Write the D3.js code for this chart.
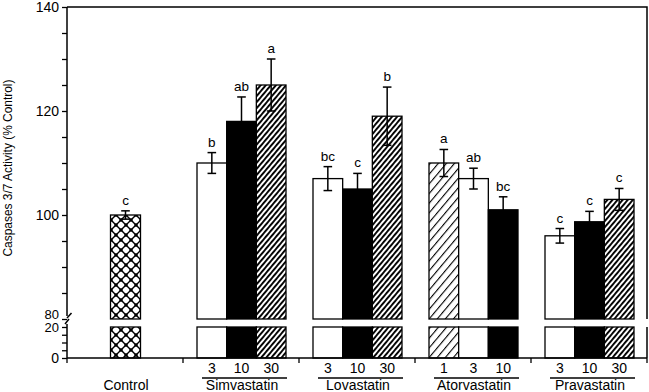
<!DOCTYPE html>
<html>
<head>
<meta charset="utf-8">
<script src="https://cdn.jsdelivr.net/npm/d3@7"></script>
<style>
  body { margin: 0; background: #fff; }
  svg { display: block; font-family: "Liberation Sans", Arial, Helvetica, sans-serif; }
  text { fill: #000; }
</style>
</head>
<body>
<svg></svg>
<script>
const WIDTH = 649;
const HEIGHT = 392;

// data
const groups = ["Control", "Simvastatin", "Lovastatin", "Atorvastatin", "Pravastatin"];
const doses = [[null], [3, 10, 30], [3, 10, 30], [1, 3, 10], [3, 10, 30]];
const means = [[100], [110, 118, 125], [107, 105, 119], [110, 107, 101], [96, 98.7, 103]];
const errors = [[0.8], [2, 4.7, 5], [2.3, 3, 5.6], [2.6, 2, 2.5], [1.4, 2, 2.1]];
const letters = [["c"], ["b", "ab", "a"], ["bc", "c", "b"], ["a", "ab", "bc"], ["c", "c", "c"]];
const upperTicks = [80, 85, 90, 95, 100, 105, 110, 115, 120, 125, 130, 135, 140];
const lowerTicks = [0, 5, 10, 15, 20];
const yTitle = "Caspases 3/7 Activity (% Control)";

const LEFT = 67, RIGHT = 647, TOP = 7;
const UPPER_BOTTOM = 319, LOWER_TOP = 327, BOTTOM = 358;

const x = d3.scaleBand().domain(groups).range([LEFT, RIGHT]);
const yUp = d3.scaleLinear().domain([80, 140]).range([UPPER_BOTTOM, TOP]);
const yLow = d3.scaleLinear().domain([0, 20]).range([BOTTOM, LOWER_TOP]);

// fill by dose (control gets its own)
const fillFor = (dose) => {
  if (dose === null) return "url(#cross)";
  return { 1: "url(#sparse)", 3: "#fff", 10: "#000", 30: "url(#dense)" }[dose];
};

const svg = d3.select("svg").attr("width", WIDTH).attr("height", HEIGHT);

function initPatterns() {
  const defs = svg.append("defs");

  const dense = defs.append("pattern").attr("id", "dense")
    .attr("patternUnits", "userSpaceOnUse").attr("width", 3.9).attr("height", 10)
    .attr("patternTransform", "rotate(40)");
  dense.append("rect").attr("width", 3.9).attr("height", 10).attr("fill", "#fff");
  dense.append("rect").attr("width", 1.9).attr("height", 10).attr("fill", "#000");

  const sparse = defs.append("pattern").attr("id", "sparse")
    .attr("patternUnits", "userSpaceOnUse").attr("width", 6.2).attr("height", 10)
    .attr("patternTransform", "rotate(40)");
  sparse.append("rect").attr("width", 6.2).attr("height", 10).attr("fill", "#fff");
  sparse.append("rect").attr("width", 1.1).attr("height", 10).attr("fill", "#000");

  const cross = defs.append("pattern").attr("id", "cross")
    .attr("patternUnits", "userSpaceOnUse").attr("width", 10).attr("height", 10)
    .attr("x", 1).attr("y", 0);
  cross.append("rect").attr("width", 10).attr("height", 10).attr("fill", "#fff");
  cross.append("path").attr("d", "M0,0L10,10M10,0L0,10")
    .attr("stroke", "#000").attr("stroke-width", 1.4);
  [[0, 0], [10, 0], [0, 10], [10, 10], [5, 5]].forEach(([cx, cy]) => {
    cross.append("rect").attr("x", cx - 1.6).attr("y", cy - 1.6)
      .attr("width", 3.2).attr("height", 3.2).attr("fill", "#000");
  });
}

function barLayout() {
  const rows = [];
  groups.forEach((g, gi) => {
    const n = means[gi].length;
    const inner = d3.scaleBand().domain(d3.range(n))
      .range(n === 1 ? [x(g) + 43.5, x(g) + 73.5] : [x(g) + 14, x(g) + 103]);
    means[gi].forEach((m, i) => {
      rows.push({
        group: g, gi, i, dose: doses[gi][i], mean: m, err: errors[gi][i],
        letter: letters[gi][i], x0: inner(i), w: inner.bandwidth()
      });
    });
  });
  return rows;
}

function drawBars(rows) {
  const g = svg.append("g");
  // upper segment
  g.selectAll(".bar-up").data(rows).enter().append("rect")
    .attr("x", (d) => d.x0).attr("width", (d) => d.w)
    .attr("y", (d) => yUp(d.mean)).attr("height", (d) => yUp(80) - yUp(d.mean))
    .attr("fill", (d) => fillFor(d.dose))
    .attr("stroke", "#000").attr("stroke-width", 1.3);
  // lower segment, 0..20
  g.selectAll(".bar-low").data(rows).enter().append("rect")
    .attr("x", (d) => d.x0).attr("width", (d) => d.w)
    .attr("y", yLow(20)).attr("height", yLow(0) - yLow(20))
    .attr("fill", (d) => fillFor(d.dose))
    .attr("stroke", "#000").attr("stroke-width", 1.3);

  // error bars
  const eb = g.selectAll(".err").data(rows).enter().append("g")
    .attr("stroke", "#000").attr("stroke-width", 1.5);
  const cx = (d) => d.x0 + d.w / 2;
  eb.append("line").attr("x1", cx).attr("x2", cx)
    .attr("y1", (d) => yUp(d.mean - d.err)).attr("y2", (d) => yUp(d.mean + d.err));
  eb.append("line").attr("x1", (d) => cx(d) - 4.3).attr("x2", (d) => cx(d) + 4.3)
    .attr("y1", (d) => yUp(d.mean + d.err)).attr("y2", (d) => yUp(d.mean + d.err));
  eb.append("line").attr("x1", (d) => cx(d) - 4.3).attr("x2", (d) => cx(d) + 4.3)
    .attr("y1", (d) => yUp(d.mean - d.err)).attr("y2", (d) => yUp(d.mean - d.err));

  // significance letters
  g.selectAll(".letter").data(rows).enter().append("text")
    .attr("x", cx).attr("y", (d) => yUp(d.mean + d.err) - 6)
    .attr("text-anchor", "middle").style("font-size", "13.5px")
    .text((d) => d.letter);

  // dose labels
  g.selectAll(".dose").data(rows.filter((d) => d.dose !== null)).enter().append("text")
    .attr("x", cx).attr("y", 373)
    .attr("text-anchor", "middle").style("font-size", "14px")
    .text((d) => d.dose);

  // underline per statin group
  groups.slice(1).forEach((name) => {
    const gr = rows.filter((d) => d.group === name);
    const a = gr[0].x0 + 5, b = gr[gr.length - 1].x0 + gr[gr.length - 1].w + 1;
    g.append("line").attr("x1", a).attr("x2", b).attr("y1", 378).attr("y2", 378)
      .attr("stroke", "#000").attr("stroke-width", 1.4);
  });

  g.selectAll(".gname").data(groups).enter().append("text")
    .attr("x", (d) => x(d) + x.bandwidth() / 2 + 1).attr("y", 390)
    .attr("text-anchor", "middle").style("font-size", "14px")
    .text((d) => d);
}

function drawAxes() {
  const fmt = (d) => (d % 20 === 0 ? d : "");
  const up = svg.append("g").attr("transform", `translate(${LEFT},0)`)
    .call(d3.axisLeft(yUp).tickValues(upperTicks).tickSize(5).tickPadding(3).tickFormat(fmt));
  const low = svg.append("g").attr("transform", `translate(${LEFT},0)`)
    .call(d3.axisLeft(yLow).tickValues(lowerTicks).tickSize(5).tickPadding(3).tickFormat(fmt));
  [up, low].forEach((a) => {
    a.select(".domain").remove();
    a.selectAll("line").attr("stroke-width", 1.3);
    a.selectAll("text").style("font-size", "14px").attr("fill", "#000");
  });
  // 80 and 20 sit tight together at the break
  up.selectAll(".tick text").filter((d) => d === 80).attr("y", -5).style("font-size", "13px");
  low.selectAll(".tick text").filter((d) => d === 20).attr("y", 0).style("font-size", "13px");

  const frame = svg.append("g").attr("stroke", "#000").attr("stroke-width", 1.5).attr("fill", "none");
  // left axis with break marks
  frame.append("path").attr("d", `M${LEFT},${TOP}V${UPPER_BOTTOM - 3}`);
  frame.append("path").attr("d", `M${LEFT},${UPPER_BOTTOM - 1}l4.5,-5`);
  frame.append("path").attr("d", `M${LEFT - 2},${LOWER_TOP - 3}l4,-5`);
  frame.append("path").attr("d", `M${LEFT},${LOWER_TOP - 3}V${BOTTOM}`);
  // top + right frame
  frame.append("path").attr("d", `M${LEFT},${TOP}H${RIGHT}V${UPPER_BOTTOM}`);
  frame.append("path").attr("d", `M${RIGHT},${LOWER_TOP}V${BOTTOM}`);
  // bottom axis
  frame.append("path").attr("d", `M${LEFT},${BOTTOM}H${RIGHT}`);

  // group separator ticks on x axis
  const seps = groups.map((g) => x(g)).concat([RIGHT]);
  svg.append("g").selectAll("line").data(seps).enter().append("line")
    .attr("x1", (d) => d).attr("x2", (d) => d)
    .attr("y1", BOTTOM).attr("y2", BOTTOM + 5)
    .attr("stroke", "#000").attr("stroke-width", 1.3);

  svg.append("text")
    .attr("transform", "translate(8,168) rotate(-90)")
    .attr("text-anchor", "middle").attr("dy", "0.35em")
    .attr("textLength", 177).attr("lengthAdjust", "spacingAndGlyphs")
    .style("font-size", "12.5px")
    .text(yTitle);
}

initPatterns();
drawBars(barLayout());
drawAxes();
</script>
</body>
</html>
